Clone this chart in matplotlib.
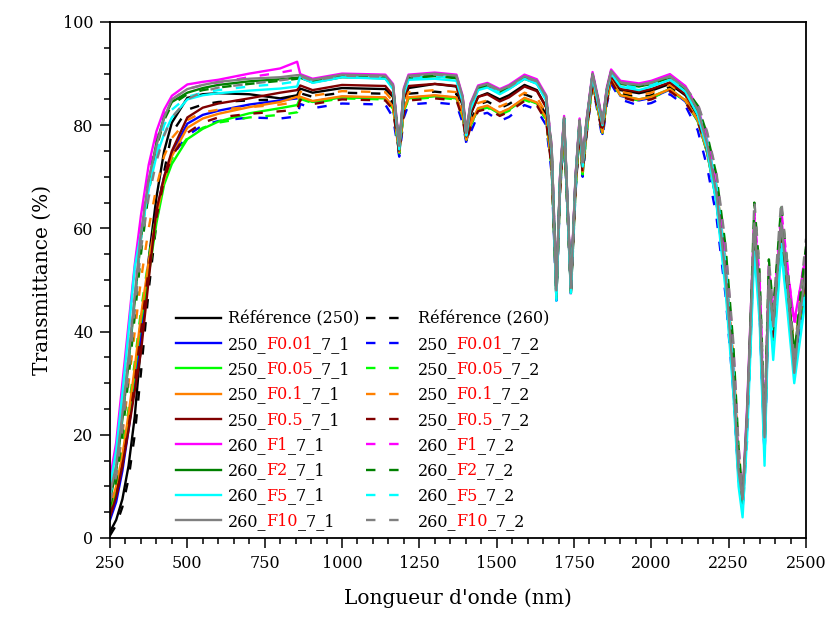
import matplotlib
matplotlib.use("Agg")
import matplotlib.pyplot as plt
from matplotlib.ticker import MultipleLocator

plt.rcParams['font.family'] = ['DejaVu Serif']

# ---------------- data ----------------
wavelength = [250, 270, 290, 310, 330, 350, 375, 400, 425, 450, 500, 550, 600, 700, 800, 855,
              865, 905, 1000, 1140, 1165, 1185, 1200, 1215, 1300, 1370, 1390, 1402, 1415, 1440,
              1470, 1510, 1540, 1590, 1630, 1660, 1678, 1693, 1705, 1718, 1740, 1755, 1768, 1778,
              1790, 1810, 1828, 1842, 1856, 1870, 1900, 1960, 2000, 2060, 2110, 2150, 2180, 2210,
              2240, 2265, 2282, 2295, 2310, 2333, 2350, 2366, 2380, 2394, 2420, 2440, 2462, 2480, 2500]

ref_250 = [1.2, 3.5, 7.5, 14, 23.5, 37.5, 54, 66, 75, 80.5, 85.3, 86, 86.2, 86, 85.2, 85.8,
           87.1, 86.3, 87.2, 87.0, 85.5, 75.0, 85.0, 87.2, 88.0, 87.5, 83.8, 77.8, 82.0, 85.5,
           86.2, 85.0, 85.8, 87.8, 86.8, 83.5, 73.5, 47.5, 69.0, 80.5, 48.0, 69.0, 80.0, 72.0,
           79.5, 88.8, 83.8, 79.5, 85.8, 89.3, 86.8, 86.2, 86.7, 88.0, 85.8, 81.8, 75.5, 66.0,
           50.0, 30.0, 12.0, 6.5, 23.0, 59.0, 45.0, 17.5, 48.5, 38.5, 59.0, 47.5, 33.0, 42.0, 50.0]
ref_260 = [0.5, 2.5, 6, 11.5, 20, 32, 48, 61, 71, 78.5, 83, 84, 84.5, 84.8, 85, 85.3,
           86.2, 85.5, 86.3, 86.1, 84.3, 74.5, 83.8, 86.1, 86.5, 86.1, 82.5, 77.0, 80.8, 84.0,
           84.6, 83.3, 84.1, 86.0, 85.1, 82.0, 72.5, 47.0, 68.0, 79.8, 47.5, 68.0, 79.3, 71.0,
           78.8, 88.3, 83.0, 78.5, 85.3, 88.8, 86.2, 85.3, 85.8, 87.4, 85.2, 81.5, 76.0, 68.0,
           53.5, 34.0, 15.0, 7.0, 21.0, 60.0, 47.0, 18.5, 50.0, 40.0, 60.5, 49.0, 33.5, 43.0, 52.0]
f001_1 = [3.5, 7, 13, 21, 30, 40, 53, 63, 70, 74.5, 80.3, 82, 82.8, 84, 84.8, 85.2,
          85.4, 84.6, 85.5, 85.3, 83.5, 74.5, 83.0, 85.3, 85.7, 85.3, 81.8, 77.0, 80.0, 83.2,
          83.7, 82.3, 83.1, 85.2, 84.3, 81.3, 72.0, 46.5, 67.8, 79.3, 47.5, 67.8, 78.8, 70.8,
          78.3, 88.3, 82.8, 78.3, 84.8, 88.8, 85.7, 84.8, 85.3, 86.9, 84.6, 80.8, 74.8, 65.5,
          49.5, 29.5, 11.5, 5.5, 22.0, 58.0, 44.0, 16.0, 47.5, 37.0, 58.0, 46.5, 33.5, 41.0, 49.0]
f001_2 = [5, 9, 15, 23, 32, 42, 53, 62.5, 69.5, 74, 78, 80, 80.8, 81.5, 81.3, 81.7,
          84.1, 83.3, 84.2, 84.0, 81.5, 73.9, 81.5, 84.0, 84.4, 84.0, 80.5, 76.5, 78.5, 82.0,
          82.4, 80.8, 81.6, 83.9, 83.0, 80.0, 70.5, 46.0, 67.0, 78.8, 47.0, 67.0, 78.3, 70.0,
          77.8, 87.8, 82.0, 77.5, 84.0, 88.0, 85.0, 83.8, 84.3, 86.0, 83.8, 79.0, 72.0, 62.5,
          47.0, 28.5, 11.5, 5.5, 22.0, 58.0, 44.0, 16.0, 47.0, 37.0, 58.0, 46.0, 33.0, 41.0, 48.0]
f005_1 = [5, 9, 15, 23, 32, 42, 51, 61, 68.5, 72.5, 77.3, 79.3, 80.7, 82.3, 83.3, 83.9,
          85.3, 84.5, 85.4, 85.2, 83.4, 74.8, 83.0, 85.2, 85.6, 85.2, 81.8, 77.2, 80.0, 83.1,
          83.6, 82.2, 83.0, 85.1, 84.2, 81.2, 72.0, 46.5, 67.8, 79.3, 47.5, 67.8, 78.8, 70.5,
          78.3, 88.3, 82.8, 78.5, 84.8, 88.8, 85.8, 85.0, 85.5, 87.0, 84.8, 80.8, 74.8, 65.5,
          50.0, 30.0, 12.0, 6.0, 23.0, 59.0, 45.0, 17.0, 48.5, 38.5, 59.0, 47.5, 35.5, 42.0, 50.0]
f005_2 = [6, 10, 17, 25, 34, 44, 54, 63, 69.5, 73.5, 77.5, 79.5, 80.5, 81.5, 82, 82.5,
          85.1, 84.3, 85.2, 85.0, 83.2, 74.6, 82.8, 85.0, 85.4, 85.0, 81.6, 77.0, 79.8, 82.9,
          83.4, 82.0, 82.8, 84.9, 84.0, 81.0, 71.8, 46.8, 67.5, 79.2, 47.5, 67.5, 78.7, 70.5,
          78.2, 88.2, 82.7, 78.3, 84.7, 88.7, 85.6, 84.8, 85.3, 86.8, 84.6, 81.0, 75.5, 67.5,
          53.0, 33.5, 14.5, 6.5, 21.0, 60.0, 46.5, 18.0, 49.5, 39.5, 60.0, 48.5, 35.0, 43.0, 51.0]
f01_1 = [6, 10, 16, 24, 33, 43, 53.5, 62.5, 69.5, 74, 79.5, 81.3, 82.2, 83.5, 84.5, 85.5,
         85.5, 84.7, 85.6, 85.4, 83.6, 74.8, 83.1, 85.4, 85.8, 85.4, 81.9, 77.2, 80.1, 83.3,
         83.8, 82.4, 83.2, 85.3, 84.4, 81.4, 72.2, 46.8, 68.0, 79.5, 47.8, 68.0, 79.0, 71.0,
         78.5, 88.4, 83.0, 78.6, 85.0, 88.9, 85.8, 85.0, 85.5, 87.0, 84.8, 81.0, 75.0, 66.0,
         50.5, 30.5, 12.5, 6.5, 23.5, 59.5, 45.5, 17.5, 49.0, 39.0, 59.5, 48.0, 36.0, 43.0, 51.0]
f01_2 = [7, 12, 20, 30, 40, 50, 60, 68, 74, 77.5, 81, 82.5, 83, 83.5, 84, 84.5,
         86.5, 85.7, 86.6, 86.4, 84.6, 75.0, 84.0, 86.4, 86.8, 86.4, 82.8, 77.5, 81.0, 84.3,
         84.8, 83.6, 84.4, 86.3, 85.4, 82.3, 72.8, 47.2, 68.5, 80.0, 48.0, 68.5, 79.5, 71.5,
         79.0, 88.7, 83.5, 79.0, 85.5, 89.2, 86.5, 85.8, 86.3, 87.8, 85.6, 82.0, 76.5, 68.5,
         54.0, 35.0, 16.0, 7.5, 22.0, 61.0, 48.0, 19.5, 51.0, 41.5, 61.5, 50.0, 36.5, 45.0, 54.0]
f05_1 = [4.1, 8, 14, 21, 28.5, 36, 50, 63.5, 70, 75, 81.5, 83.4, 84.2, 85.2, 86.3, 86.8,
         87.7, 86.8, 87.8, 87.6, 85.8, 75.2, 85.4, 87.6, 88.0, 87.6, 84.0, 77.8, 82.3, 85.5,
         86.0, 84.6, 85.4, 87.5, 86.6, 83.5, 73.5, 47.5, 69.0, 80.5, 48.0, 69.0, 80.0, 72.0,
         79.5, 89.0, 84.0, 79.5, 86.0, 89.5, 87.0, 86.5, 87.0, 88.3, 86.0, 82.0, 75.8, 66.3,
         50.5, 30.5, 12.5, 6.5, 23.5, 59.5, 45.5, 17.5, 49.0, 39.0, 59.5, 48.0, 35.0, 43.0, 51.0]
f05_2 = [4.5, 8, 14, 21.5, 30, 40, 52, 62, 69.5, 74, 78.5, 80.5, 81.5, 82.2, 82.7, 83,
         84.9, 84.1, 85.0, 84.8, 83.0, 74.5, 82.5, 84.8, 85.2, 84.8, 81.3, 76.9, 79.5, 82.7,
         83.2, 81.8, 82.6, 84.7, 83.8, 80.8, 71.5, 46.5, 67.3, 79.0, 47.3, 67.3, 78.5, 70.5,
         78.0, 88.0, 82.5, 78.2, 84.5, 88.5, 85.5, 84.5, 85.0, 86.6, 84.4, 80.8, 75.3, 67.3,
         52.5, 33.5, 14.5, 6.5, 21.0, 60.0, 46.5, 18.0, 49.5, 39.5, 60.0, 48.5, 35.0, 43.5, 52.0]
f1_1 = [11.5, 18.5, 30, 41.5, 53, 62.5, 72.3, 78.8, 83, 85.7, 87.9, 88.4, 88.8, 90, 91, 92.3,
        89.9, 89.0, 90.0, 89.8, 88.0, 76.3, 87.2, 89.8, 90.2, 89.8, 85.7, 78.7, 84.2, 87.7,
        88.2, 87.0, 87.8, 89.8, 88.9, 85.8, 75.3, 48.2, 70.3, 81.8, 48.8, 70.3, 81.3, 73.3,
        80.8, 90.3, 85.3, 80.8, 87.3, 90.8, 88.6, 88.1, 88.6, 89.9, 87.6, 83.5, 77.3, 68.0,
        53.0, 33.0, 15.0, 8.0, 26.0, 62.0, 49.0, 20.0, 52.0, 43.0, 62.0, 52.0, 42.0, 48.0, 55.0]
f1_2 = [10, 17, 28, 40, 52, 61.5, 71, 78, 82.5, 85, 87, 87.8, 88.3, 89.3, 90.2, 90.8,
        89.5, 88.6, 89.6, 89.4, 87.6, 75.9, 86.8, 89.4, 89.8, 89.4, 85.3, 78.4, 83.8, 87.3,
        87.8, 86.6, 87.4, 89.3, 88.4, 85.5, 75.5, 48.5, 70.0, 81.5, 48.5, 70.0, 81.0, 73.0,
        80.5, 90.0, 85.0, 80.5, 87.0, 90.5, 88.3, 87.8, 88.3, 89.4, 87.3, 84.0, 78.5, 70.5,
        56.0, 37.0, 17.5, 8.5, 23.0, 63.0, 50.5, 21.5, 53.0, 44.0, 63.5, 53.0, 41.0, 48.0, 56.0]
f2_1 = [7.5, 13, 23, 34, 46, 58, 69, 76.5, 81.5, 84.5, 86.3, 87.2, 87.8, 88.5, 88.9, 89.2,
        89.2, 88.3, 89.3, 89.1, 87.3, 75.8, 86.5, 89.1, 89.5, 89.1, 85.0, 78.3, 83.5, 87.0,
        87.5, 86.3, 87.1, 89.0, 88.1, 85.0, 74.7, 47.8, 69.8, 81.3, 48.3, 69.8, 80.8, 72.8,
        80.3, 89.8, 84.8, 80.3, 86.8, 90.3, 88.0, 87.5, 88.0, 89.2, 86.9, 82.8, 76.3, 67.0,
        51.0, 31.0, 13.0, 7.0, 24.5, 60.5, 46.0, 19.0, 50.0, 40.5, 60.5, 49.0, 36.0, 44.0, 52.0]
f2_2 = [6, 11, 20, 31, 43, 55, 67, 75.5, 81, 84, 86, 86.8, 87.3, 88, 88.6, 89,
        89.4, 88.5, 89.5, 89.3, 87.5, 75.8, 86.7, 89.3, 89.7, 89.3, 85.2, 78.3, 83.7, 87.2,
        87.7, 86.5, 87.3, 89.2, 88.3, 85.3, 75.3, 48.3, 69.8, 81.3, 48.5, 69.8, 80.8, 72.8,
        80.3, 89.8, 84.8, 80.3, 86.8, 90.3, 88.1, 87.6, 88.1, 89.3, 87.1, 83.8, 78.3, 70.5,
        56.5, 37.5, 17.5, 8.0, 22.0, 65.0, 51.5, 21.5, 54.0, 44.0, 64.5, 53.0, 35.0, 46.0, 56.5]
f5_1 = [9.9, 17, 28, 40, 52.5, 59, 67.5, 74, 78.3, 81.5, 85, 85.8, 86.2, 86.7, 87.1, 87.5,
        89.5, 88.2, 89.3, 89.0, 87.0, 75.3, 86.0, 88.8, 89.0, 88.6, 84.5, 78.0, 83.0, 86.8,
        87.3, 86.0, 87.0, 89.0, 88.0, 84.8, 74.5, 46.0, 69.5, 81.0, 47.5, 69.5, 80.5, 72.0,
        79.8, 89.5, 84.0, 80.0, 86.5, 90.0, 87.5, 86.8, 87.5, 88.8, 86.5, 82.0, 75.5, 65.0,
        48.0, 28.0, 10.0, 4.0, 20.0, 55.5, 42.0, 14.0, 46.0, 34.5, 55.5, 44.0, 30.0, 38.0, 47.0]
f5_2 = [8, 14, 24, 35, 47, 58, 68, 75, 80, 83, 85.5, 86.3, 86.8, 87.5, 88, 88.5,
        89.2, 88.3, 89.3, 89.1, 87.3, 75.6, 86.5, 89.1, 89.5, 89.1, 85.0, 78.2, 83.5, 87.0,
        87.5, 86.3, 87.1, 89.0, 88.1, 85.0, 74.8, 47.0, 69.8, 81.2, 48.0, 69.8, 80.8, 72.5,
        80.2, 89.8, 84.5, 80.2, 86.7, 90.2, 87.8, 87.2, 87.8, 89.0, 86.8, 83.0, 77.0, 68.5,
        53.0, 33.0, 13.5, 5.0, 19.0, 58.0, 45.0, 16.0, 48.0, 37.0, 58.0, 46.0, 31.0, 41.0, 50.0]
f10_1 = [8.7, 14, 24, 35, 47, 59, 69.5, 76, 81.5, 85, 87, 87.8, 88.4, 89, 89.3, 89.7,
         89.7, 88.8, 89.8, 89.6, 87.8, 76.0, 87.0, 89.6, 90.0, 89.6, 85.5, 78.5, 84.0, 87.5,
         88.0, 86.8, 87.6, 89.5, 88.6, 85.5, 75.0, 48.0, 70.0, 81.5, 48.5, 70.0, 81.0, 73.0,
         80.5, 90.0, 85.0, 80.5, 87.0, 90.5, 88.3, 87.8, 88.3, 89.5, 87.2, 83.0, 76.5, 67.0,
         51.0, 31.0, 13.0, 7.5, 25.0, 61.0, 46.0, 19.5, 50.0, 41.0, 61.0, 49.0, 32.0, 43.0, 52.0]
f10_2 = [7, 12, 21, 32, 44, 56, 66, 73, 78, 81.5, 85, 86.5, 87.3, 88, 88.7, 89.1,
         89.5, 88.6, 89.6, 89.4, 87.6, 75.8, 86.8, 89.4, 89.8, 89.4, 85.3, 78.3, 83.8, 87.3,
         87.8, 86.6, 87.4, 89.3, 88.5, 85.7, 76.0, 48.5, 69.5, 81.3, 48.5, 69.5, 80.8, 72.8,
         80.3, 89.8, 84.8, 80.3, 86.8, 90.3, 88.2, 87.7, 88.2, 89.4, 87.3, 84.2, 78.8, 71.0,
         57.0, 38.0, 18.0, 8.0, 22.0, 65.5, 52.0, 22.0, 54.0, 44.0, 65.5, 53.0, 34.0, 46.0, 58.0]

# legend label pieces: (prefix, red part, suffix)
label_prefix = ["Référence (250)", "Référence (260)",
                "250_", "250_", "250_", "250_", "250_", "250_", "250_", "250_",
                "260_", "260_", "260_", "260_", "260_", "260_", "260_", "260_"]
label_red = ["", "", "F0.01", "F0.01", "F0.05", "F0.05", "F0.1", "F0.1", "F0.5", "F0.5",
             "F1", "F1", "F2", "F2", "F5", "F5", "F10", "F10"]
label_suffix = ["", "", "_7_1", "_7_2", "_7_1", "_7_2", "_7_1", "_7_2", "_7_1", "_7_2",
                "_7_1", "_7_2", "_7_1", "_7_2", "_7_1", "_7_2", "_7_1", "_7_2"]
series_values = [ref_250, ref_260, f001_1, f001_2, f005_1, f005_2, f01_1, f01_2,
                 f05_1, f05_2, f1_1, f1_2, f2_1, f2_2, f5_1, f5_2, f10_1, f10_2]
series_colors = ["#000000", "#000000", "#0000FF", "#0000FF", "#00FF00", "#00FF00",
                 "#FF8000", "#FF8000", "#800000", "#800000", "#FF00FF", "#FF00FF",
                 "#008000", "#008000", "#00FFFF", "#00FFFF", "#808080", "#808080"]
series_dashed = [False, True] * 9

x_ticks = [250, 500, 750, 1000, 1250, 1500, 1750, 2000, 2250, 2500]
y_ticks = [0, 20, 40, 60, 80, 100]

# ---------------- figure ----------------
fig = plt.figure(figsize=(8.30, 6.17), dpi=100)
ax = fig.add_axes([110 / 830, 1 - 538 / 617, (806 - 110) / 830, (538 - 22) / 617])

lines = {}
for i, vals in enumerate(series_values):
    if series_dashed[i]:
        ln, = ax.plot(wavelength, vals, color=series_colors[i], lw=1.7,
                      linestyle=(0, (4.0, 5.8)))
    else:
        ln, = ax.plot(wavelength, vals, color=series_colors[i], lw=1.7)
    lines[i] = ln

ax.set_xlim(250, 2500)
ax.set_ylim(0, 100)
ax.set_xticks(x_ticks)
ax.set_yticks(y_ticks)
ax.xaxis.set_minor_locator(MultipleLocator(50))
ax.yaxis.set_minor_locator(MultipleLocator(5))
ax.tick_params(axis='both', which='major', direction='out', length=7, width=1.1,
               labelsize=11.5, pad=5, top=False, right=False)
ax.tick_params(axis='both', which='minor', direction='out', length=4, width=1.1,
               top=False, right=False)
for sp in ax.spines.values():
    sp.set_linewidth(1.3)

ax.set_xlabel("Longueur d'onde (nm)", fontsize=14.5, labelpad=12)
ax.set_ylabel("Transmittance (%)", fontsize=14.5, labelpad=8)

# legend: solid series in first column, dashed in second.
# The legend shows the black prefix; the red sample code and suffix follow it.
order = [i for i in range(18) if not series_dashed[i]] + [i for i in range(18) if series_dashed[i]]
handles = [lines[i] for i in order]
labels = [label_prefix[i] for i in order]
leg = ax.legend(handles, labels, ncol=2, loc='upper left',
                bbox_to_anchor=(0.095, 0.441), frameon=False, fontsize=11.5,
                handlelength=2.8, handletextpad=0.45, columnspacing=0.4,
                labelspacing=0.52, borderaxespad=0, borderpad=0)

for txt, i in zip(leg.get_texts(), order):
    if label_red[i]:
        prev = ax.annotate(label_red[i], xy=(1, 0), xycoords=txt, va='bottom', ha='left',
                           fontsize=11.5, color='#FF0000', zorder=11)
        ax.annotate(label_suffix[i], xy=(1, 0), xycoords=prev, va='bottom', ha='left',
                    fontsize=11.5, color='black', zorder=12)

fig.savefig("out.png", dpi=100)
